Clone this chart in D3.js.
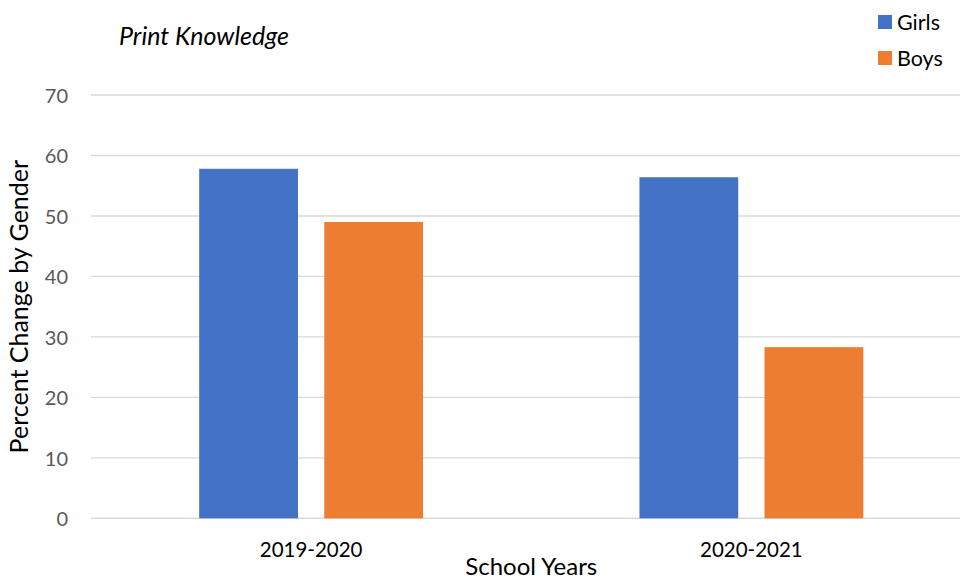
<!DOCTYPE html>
<html>
<head>
<meta charset="utf-8">
<script src="https://cdn.jsdelivr.net/npm/d3@7/dist/d3.min.js"></script>
<style>
  html, body { margin: 0; padding: 0; background: #fff; }
  svg { display: block; }
  text { font-family: Lato, "Open Sans", sans-serif; }
</style>
</head>
<body>
<svg id="chart" width="960" height="581"></svg>
<script>
// Percent change in print knowledge, by gender and school year
const categories = ["2019-2020", "2020-2021"];
const seriesNames = ["Girls", "Boys"];
const girls = [57.8, 56.4];
const boys = [49.0, 28.3];
const yTicks = [0, 10, 20, 30, 40, 50, 60, 70];
const colors = { Girls: "#4472C4", Boys: "#ED7D31" };

const seriesValues = { Girls: girls, Boys: boys };
const rows = categories.map((c, i) => ({
  category: c,
  values: seriesNames.map(s => ({ series: s, value: seriesValues[s][i] }))
}));

const svg = d3.select("#chart");
const plot = { left: 91, right: 971.5, top: 95, bottom: 518.3 };

const x0 = d3.scaleBand().domain(categories).range([plot.left, plot.right]).padding(0);
const x1 = d3.scaleBand().domain(seriesNames).range([0, x0.bandwidth()])
  .paddingInner(0.21).paddingOuter(0.865);
const y = d3.scaleLinear().domain([0, 70]).range([plot.bottom, plot.top]);

// gridlines
svg.append("g")
  .selectAll("line")
  .data(yTicks)
  .join("line")
  .attr("x1", plot.left)
  .attr("x2", plot.right)
  .attr("y1", d => y(d))
  .attr("y2", d => y(d))
  .attr("stroke", "#d9d9d9")
  .attr("stroke-width", 1.4);

// y axis labels
const yAxis = d3.axisLeft(y).tickValues(yTicks).tickSize(0).tickPadding(0);
const yg = svg.append("g").attr("transform", `translate(68,0)`).call(yAxis);
yg.select(".domain").remove();
yg.selectAll("text")
  .attr("fill", "#595959")
  .style("font-size", "20px")
  .attr("dy", "0.36em");

// bars
svg.append("g")
  .selectAll("g")
  .data(rows)
  .join("g")
  .attr("transform", d => `translate(${x0(d.category)},0)`)
  .selectAll("rect")
  .data(d => d.values)
  .join("rect")
  .attr("x", d => x1(d.series))
  .attr("width", x1.bandwidth())
  .attr("y", d => y(d.value))
  .attr("height", d => y(0) - y(d.value))
  .attr("fill", d => colors[d.series]);

// category labels
const xAxis = d3.axisBottom(x0).tickSize(0).tickPadding(0);
const xg = svg.append("g").attr("transform", `translate(0,557)`).call(xAxis);
xg.select(".domain").remove();
xg.selectAll("text")
  .attr("fill", "#000")
  .attr("dy", 0)
  .style("font-size", "20.5px");

// axis titles
svg.append("text")
  .attr("x", (plot.left + plot.right) / 2)
  .attr("y", 575)
  .attr("text-anchor", "middle")
  .style("font-size", "24px")
  .attr("fill", "#000")
  .text("School Years");

svg.append("text")
  .attr("transform", `translate(28,${(plot.top + plot.bottom) / 2}) rotate(-90)`)
  .attr("text-anchor", "middle")
  .style("font-size", "25px")
  .attr("fill", "#000")
  .text("Percent Change by Gender");

// chart title
svg.append("text")
  .attr("x", 119)
  .attr("y", 45)
  .style("font-size", "25px")
  .style("font-style", "italic")
  .attr("fill", "#000")
  .text("Print Knowledge");

// legend
const legend = svg.append("g")
  .selectAll("g")
  .data(seriesNames)
  .join("g")
  .attr("transform", (d, i) => `translate(878,${15 + i * 36})`);
legend.append("rect")
  .attr("width", 14)
  .attr("height", 14)
  .attr("fill", d => colors[d]);
legend.append("text")
  .attr("x", 19)
  .attr("y", 14.5)
  .style("font-size", "21.5px")
  .attr("fill", "#000")
  .text(d => d);
</script>
</body>
</html>
